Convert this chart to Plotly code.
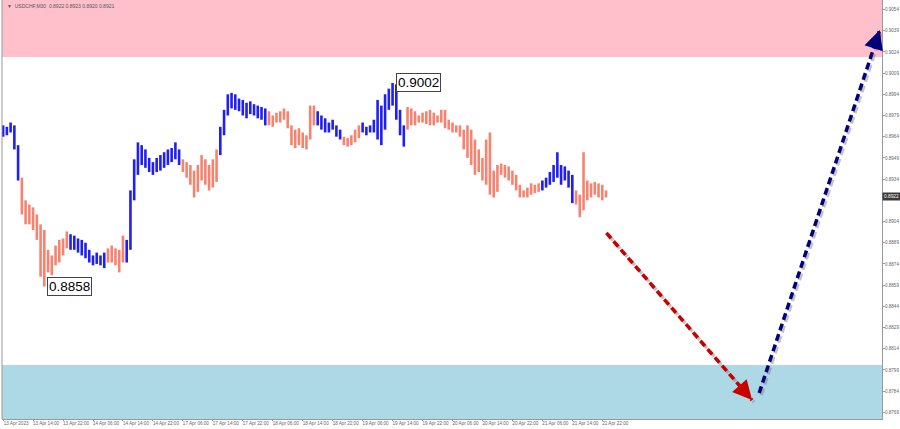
import plotly.graph_objects as go

# hourly bars, 13 Apr 2023 06:00 onward (weekend removed)
highs = [0.8972, 0.8971, 0.8974, 0.8972, 0.8958, 0.8935, 0.8919, 0.8916, 0.8914, 0.8909,
         0.8902, 0.8898, 0.8884, 0.8880, 0.8887, 0.8891, 0.8892, 0.8897, 0.8895, 0.8894,
         0.8892, 0.8891, 0.8889, 0.8884, 0.8880, 0.8882, 0.8880, 0.8882, 0.8885, 0.8887,
         0.8885, 0.8884, 0.8894, 0.8891, 0.8926, 0.8948, 0.8960, 0.8958, 0.8955, 0.8949,
         0.8946, 0.8949, 0.8951, 0.8953, 0.8955, 0.8956, 0.8960, 0.8955, 0.8948, 0.8946,
         0.8944, 0.8940, 0.8944, 0.8951, 0.8948, 0.8944, 0.8948, 0.8955, 0.8971, 0.8983,
         0.8994, 0.8995, 0.8994, 0.8991, 0.8990, 0.8988, 0.8989, 0.8987, 0.8986, 0.8985,
         0.8984, 0.8982, 0.8979, 0.8981, 0.8982, 0.8984, 0.8982, 0.8972, 0.8969, 0.8970,
         0.8967, 0.8965, 0.8986, 0.8986, 0.8982, 0.8979, 0.8977, 0.8974, 0.8976, 0.8972,
         0.8969, 0.8964, 0.8963, 0.8965, 0.8969, 0.8972, 0.8974, 0.8971, 0.8972, 0.8976,
         0.8990, 0.8986, 0.8994, 0.8998, 0.9002, 0.9001, 0.8983, 0.8972, 0.8985, 0.8984,
         0.8982, 0.8979, 0.8981, 0.8982, 0.8983, 0.8981, 0.8979, 0.8983, 0.8983, 0.8976,
         0.8974, 0.8972, 0.8972, 0.8969, 0.8972, 0.8969, 0.8962, 0.8955, 0.8949, 0.8962,
         0.8967, 0.8940, 0.8944, 0.8945, 0.8944, 0.8943, 0.8940, 0.8937, 0.8930, 0.8926,
         0.8928, 0.8931, 0.8930, 0.8931, 0.8933, 0.8935, 0.8939, 0.8944, 0.8953, 0.8944,
         0.8943, 0.8940, 0.8937, 0.8926, 0.8923, 0.8953, 0.8933, 0.8931, 0.8932, 0.8931,
         0.8930, 0.8926]
lows = [0.8964, 0.8965, 0.8967, 0.8955, 0.8933, 0.8909, 0.8902, 0.8902, 0.8898, 0.8891,
        0.8865, 0.8858, 0.8868, 0.8866, 0.8873, 0.8875, 0.8880, 0.8885, 0.8884, 0.8884,
        0.8882, 0.8880, 0.8878, 0.8875, 0.8873, 0.8874, 0.8873, 0.8871, 0.8875, 0.8875,
        0.8873, 0.8868, 0.8875, 0.8875, 0.8884, 0.8919, 0.8937, 0.8944, 0.8942, 0.8939,
        0.8937, 0.8939, 0.8940, 0.8942, 0.8944, 0.8946, 0.8948, 0.8944, 0.8939, 0.8935,
        0.8930, 0.8921, 0.8925, 0.8933, 0.8930, 0.8926, 0.8928, 0.8932, 0.8951, 0.8965,
        0.8979, 0.8984, 0.8983, 0.8982, 0.8979, 0.8977, 0.8980, 0.8979, 0.8977, 0.8976,
        0.8972, 0.8972, 0.8971, 0.8974, 0.8974, 0.8976, 0.8970, 0.8958, 0.8956, 0.8958,
        0.8956, 0.8955, 0.8962, 0.8972, 0.8972, 0.8969, 0.8967, 0.8967, 0.8969, 0.8964,
        0.8962, 0.8958, 0.8957, 0.8958, 0.8960, 0.8963, 0.8967, 0.8965, 0.8967, 0.8967,
        0.8962, 0.8958, 0.8969, 0.8983, 0.8986, 0.8976, 0.8965, 0.8957, 0.8969, 0.8972,
        0.8972, 0.8974, 0.8974, 0.8973, 0.8972, 0.8972, 0.8974, 0.8974, 0.8970, 0.8969,
        0.8967, 0.8967, 0.8964, 0.8955, 0.8949, 0.8944, 0.8937, 0.8939, 0.8933, 0.8930,
        0.8923, 0.8921, 0.8925, 0.8937, 0.8935, 0.8933, 0.8930, 0.8926, 0.8921, 0.8921,
        0.8921, 0.8923, 0.8924, 0.8925, 0.8926, 0.8928, 0.8930, 0.8932, 0.8935, 0.8930,
        0.8933, 0.8928, 0.8917, 0.8916, 0.8907, 0.8912, 0.8919, 0.8921, 0.8923, 0.8921,
        0.8919, 0.8921]

# wave segments: first bar index of each segment, direction alternates starting with "up"
wave_starts = [0, 5, 18, 28, 33, 48, 58, 71, 84, 91, 96, 108, 144, 153, 162]
wave_dirs = ["up", "down", "up", "down", "up", "down", "up", "down", "up", "down",
             "up", "down", "up", "down"]

x_labels = ["13 Apr 2023", "13 Apr 14:00", "13 Apr 22:00", "14 Apr 06:00", "14 Apr 14:00",
            "14 Apr 22:00", "17 Apr 06:00", "17 Apr 14:00", "17 Apr 22:00", "18 Apr 06:00",
            "18 Apr 14:00", "18 Apr 22:00", "19 Apr 06:00", "19 Apr 14:00", "19 Apr 22:00",
            "20 Apr 06:00", "20 Apr 14:00", "20 Apr 22:00", "21 Apr 06:00", "21 Apr 14:00",
            "21 Apr 22:00"]
y_ticks = [0.8769, 0.8784, 0.8799, 0.8814, 0.8829, 0.8844, 0.8859, 0.8874, 0.8889, 0.8904,
           0.8934, 0.8949, 0.8964, 0.8979, 0.8994, 0.9009, 0.9024, 0.9039, 0.9054]

last_price = 0.8922
header = "▼  USDCHF,M30  0.8922 0.8923 0.8920 0.8921"
sell_zone = (0.90204, 0.9061)
buy_zone = (0.8764, 0.88025)
# forecast: down to the buy zone, then up to the sell zone
forecast_down = ((161.1, 0.88959), (200.0, 0.87777))
forecast_up = ((201.9, 0.87827), (234.1, 0.90395))

x_range = [-0.3, 234.7]
y_range = [0.87643, 0.90607]
plot_w, plot_h = 880, 419
px_x = plot_w / (x_range[1] - x_range[0])
px_y = plot_h / (y_range[1] - y_range[0])

colors = {"up": "#1f1fee", "down": "#f6836f"}
tick_font = dict(family="Liberation Sans", size=4.6, color="#666666")

fig = go.Figure()

for i, d in enumerate(wave_dirs):
    xs, ys = [], []
    for k in range(wave_starts[i], wave_starts[i + 1]):
        xs += [k, k, None]
        ys += [lows[k], highs[k], None]
    fig.add_trace(go.Scatter(x=xs, y=ys, mode="lines", showlegend=False, hoverinfo="skip",
                             line=dict(color=colors[d], width=2.6)))

shapes = [
    dict(type="rect", xref="paper", yref="y", x0=0, x1=1, y0=sell_zone[0], y1=sell_zone[1],
         fillcolor="#ffc0cb", line_width=0, layer="below"),
    dict(type="rect", xref="paper", yref="y", x0=0, x1=1, y0=buy_zone[0], y1=buy_zone[1],
         fillcolor="#add8e6", line_width=0, layer="below"),
    dict(type="line", xref="paper", yref="paper", x0=0, x1=0, y0=0, y1=1,
         line=dict(color="#999999", width=1)),
]

annotations = []


def dashed_arrow(seg, color):
    (x0, y0), (x1, y1) = seg
    # drop shadow, 2px right and down
    sx, sy = 2 / px_x, -2 / px_y
    shapes.append(dict(type="line", xref="x", yref="y", x0=x0 + sx, y0=y0 + sy,
                       x1=x1 + sx, y1=y1 + sy,
                       line=dict(color="rgba(120,120,120,0.45)", width=3.5, dash="7px,4px")))
    shapes.append(dict(type="line", xref="x", yref="y", x0=x0, y0=y0, x1=x1, y1=y1,
                       line=dict(color=color, width=3.5, dash="7px,4px")))
    dx, dy = (x1 - x0) * px_x, (y1 - y0) * px_y
    n = (dx * dx + dy * dy) ** 0.5
    back = 16
    # arrowhead only: tail offset in pixels (screen y grows downward)
    annotations.append(dict(x=x1, y=y1, xref="x", yref="y",
                            ax=-dx / n * back, ay=dy / n * back,
                            text="", showarrow=True, arrowhead=2, arrowsize=1.1,
                            arrowwidth=3.5, arrowcolor=color))


dashed_arrow(forecast_down, "#c80000")
dashed_arrow(forecast_up, "#00007a")

hi_idx = highs.index(max(highs))
lo_idx = lows.index(min(lows))
for idx, val in [(hi_idx, max(highs)), (lo_idx, min(lows))]:
    annotations.append(dict(x=idx, y=val, xref="x", yref="y", text=f"{val:.4f}",
                            showarrow=False, xanchor="left", yanchor="middle", xshift=3,
                            font=dict(family="Liberation Sans, Arial", size=13.5, color="black"),
                            bgcolor="white", bordercolor="#444444", borderwidth=1, borderpad=1))

annotations.append(dict(x=1, y=last_price, xref="paper", yref="y", text=f"{last_price:.4f}",
                        showarrow=False, xanchor="left", yanchor="middle", xshift=0,
                        font=dict(family="Liberation Sans", size=4.8, color="white"),
                        bgcolor="#3a3a3a", borderpad=1))
annotations.append(dict(x=0, y=1, xref="paper", yref="paper", text=header, showarrow=False,
                        xanchor="left", yanchor="top", xshift=3, yshift=-1,
                        font=dict(family="Liberation Sans", size=5, color="#555555")))

fig.update_layout(
    width=900, height=429,
    margin=dict(l=2, r=18, t=0, b=10),
    paper_bgcolor="white", plot_bgcolor="white",
    shapes=shapes, annotations=annotations,
    xaxis=dict(range=x_range, tickvals=list(range(0, 8 * len(x_labels), 8)), ticktext=x_labels,
               showgrid=False, zeroline=False, showline=True, linecolor="#999999",
               ticks="outside", ticklen=1, tickcolor="#999999", automargin=False,
               tickangle=0, ticklabelshift=13, ticklabelstandoff=-2, tickfont=tick_font),
    yaxis=dict(range=y_range, side="right", tickvals=y_ticks,
               ticktext=[f"{v:.4f}" for v in y_ticks],
               showgrid=False, zeroline=False, showline=True, linecolor="#999999",
               ticks="outside", ticklen=2, tickcolor="#999999", automargin=False,
               ticklabelstandoff=-1, tickfont=tick_font),
)

fig.write_html("out.html", post_script="document.body.style.margin='0';",
               config={"displayModeBar": False})
